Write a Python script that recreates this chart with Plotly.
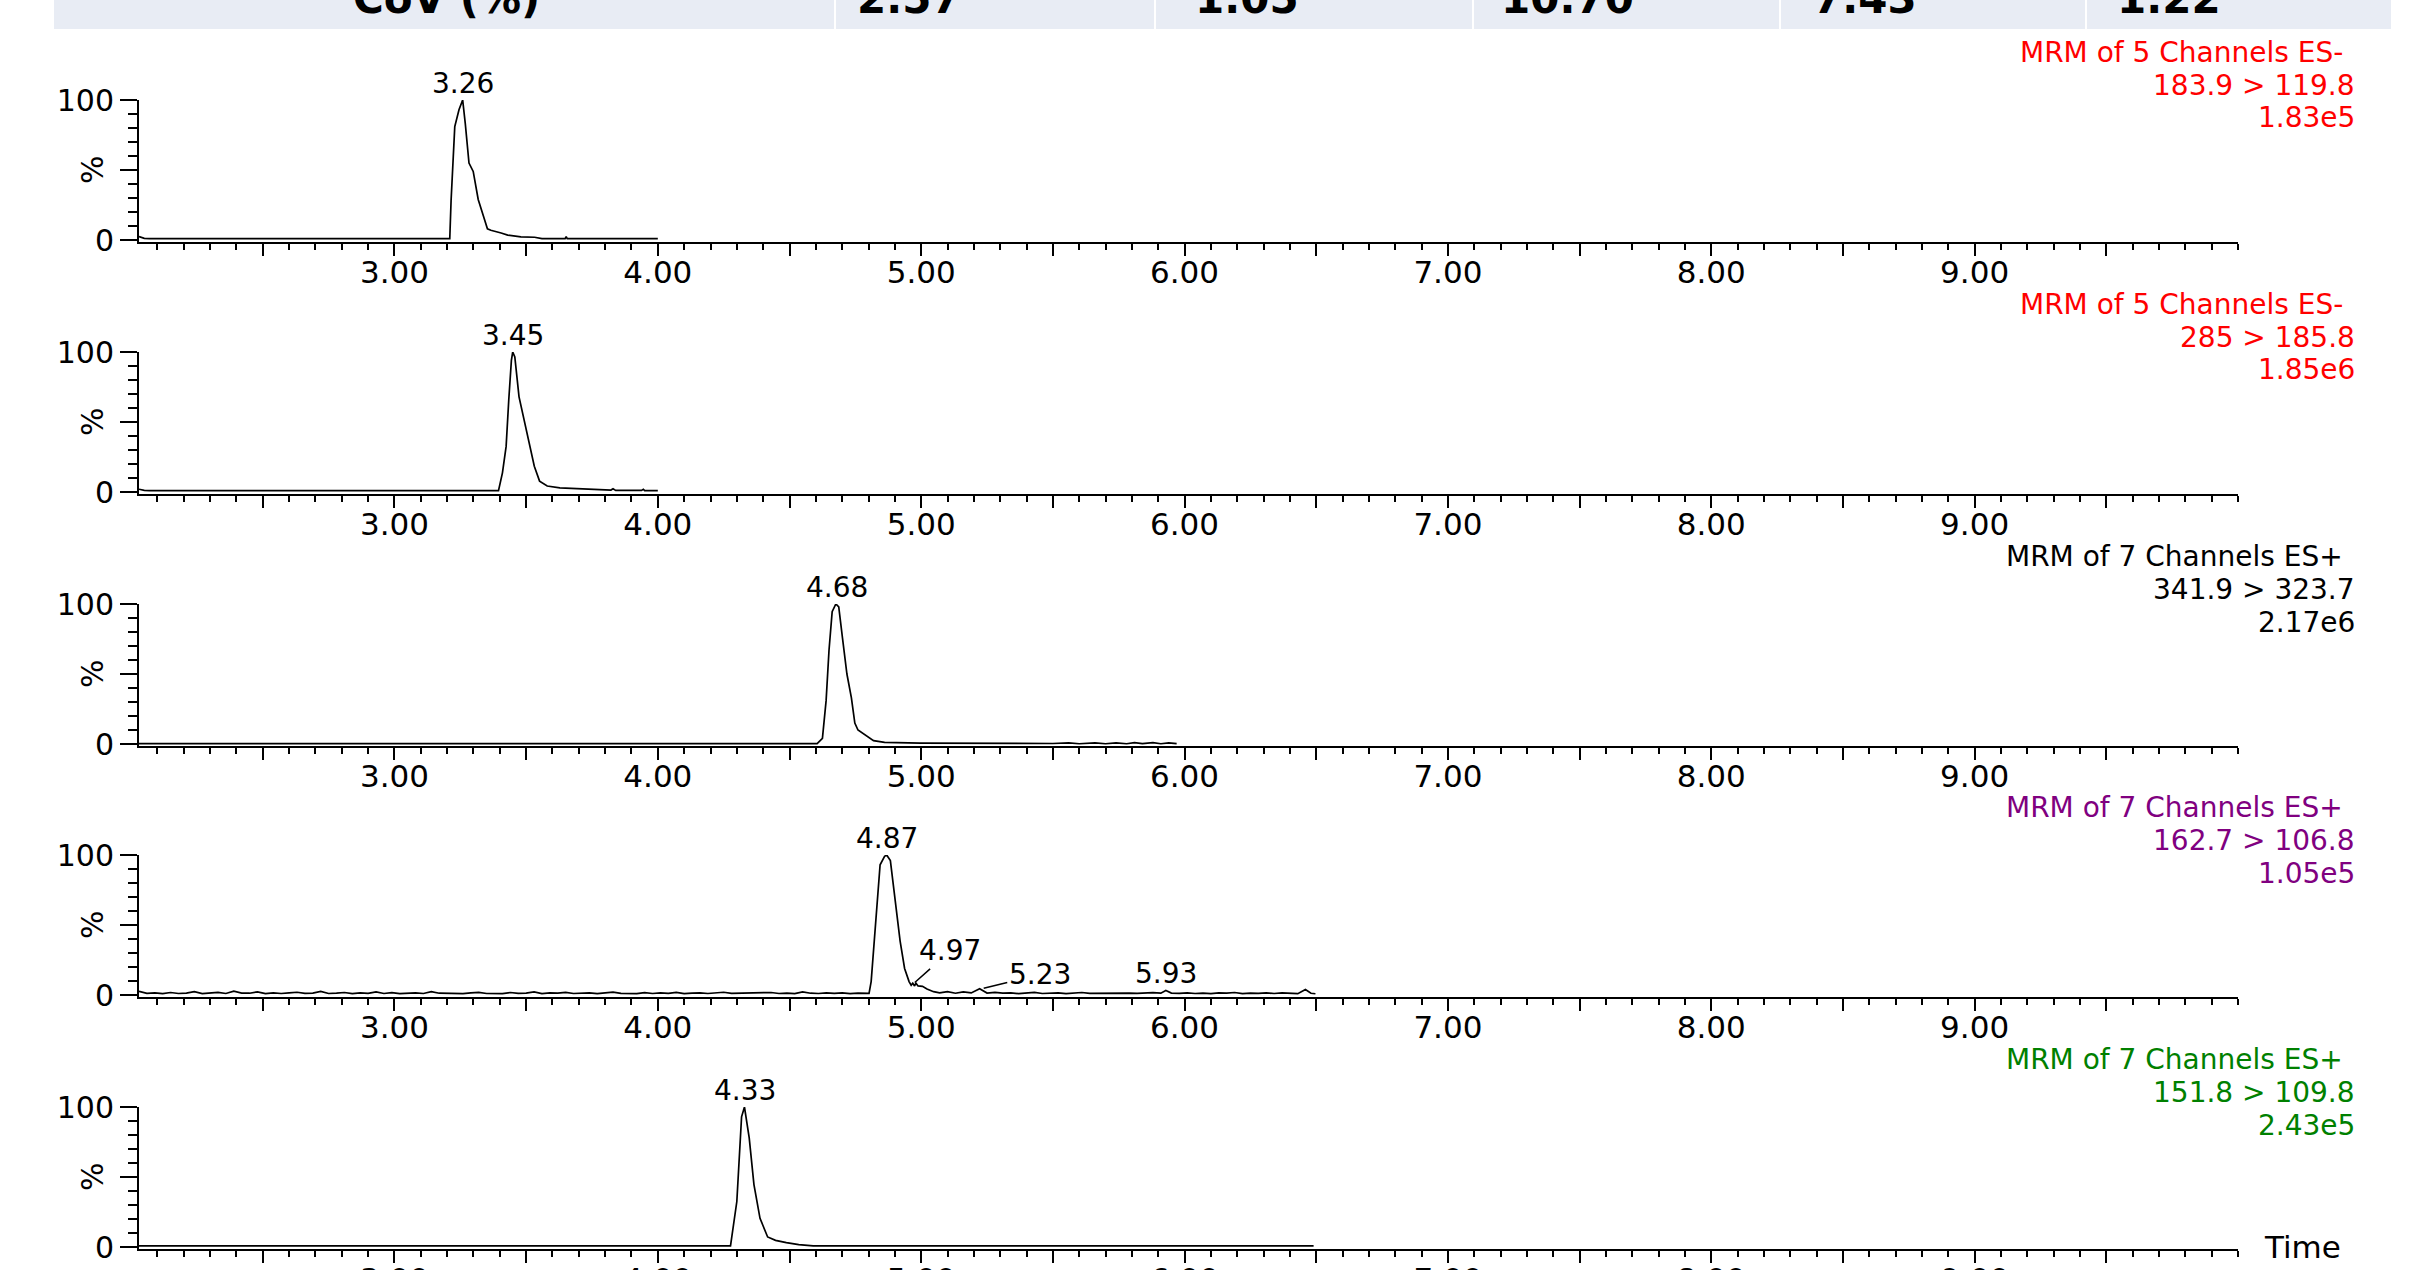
import plotly.graph_objects as go

# ---------------- data ----------------
# Panel 1 : 183.9 > 119.8
p1_t = [2.03, 2.05, 2.07, 3.21, 3.215, 3.229, 3.245, 3.259, 3.269, 3.283, 3.299, 3.318,
        3.338, 3.353, 3.366, 3.39, 3.405, 3.43, 3.454, 3.48, 3.532, 3.56, 3.648, 3.652,
        3.656, 4.0]
p1_y = [2.5, 1.2, 1.0, 1.0, 28, 81, 93, 100, 83, 55, 49, 29,
        17, 8, 7, 6, 5, 3.5, 3, 2.2, 2, 1, 1, 2.5,
        1, 1]

# Panel 2 : 285 > 185.8
p2_t = [2.03, 2.05, 2.07, 3.395, 3.41, 3.424, 3.434, 3.444, 3.449, 3.457, 3.473, 3.492,
        3.512, 3.531, 3.551, 3.58, 3.628, 3.686, 3.76, 3.822, 3.83, 3.84, 3.938, 3.945,
        3.95, 4.0]
p2_y = [2.0, 1.2, 1.0, 1.0, 13.7, 32.6, 65.7, 94, 100, 96.5, 68, 51.5,
        35, 18.4, 7.8, 4.3, 3, 2.4, 1.8, 1.4, 2.3, 1.2, 1.2, 2,
        1, 1]

# Panel 3 : 341.9 > 323.7
p3_t = [2.03, 4.605, 4.625, 4.639, 4.65, 4.662, 4.676, 4.687, 4.701, 4.718, 4.735, 4.748,
        4.76, 4.785, 4.819, 4.861, 4.93, 4.997, 5.5, 5.56, 5.6, 5.66, 5.7, 5.74,
        5.78, 5.81, 5.84, 5.88, 5.91, 5.94, 5.97]
p3_y = [0.3, 0.3, 4, 31, 67, 94.5, 100, 98, 76, 50, 33, 15,
        10, 6.7, 2.4, 1.2, 1.0, 0.6, 0.4, 0.9, 0.2, 0.8, 0.2, 0.9,
        0.2, 1.0, 0.3, 1.0, 0.2, 0.8, 0.3]

# Panel 4 : 162.7 > 106.8 (noisy)
p4_t = [2.03, 2.06, 2.09, 2.12, 2.15, 2.18, 2.21, 2.24, 2.27, 2.30, 2.33, 2.36, 2.39,
        2.42, 2.45, 2.48, 2.51, 2.54, 2.57, 2.60, 2.63, 2.66, 2.69, 2.72, 2.75, 2.78,
        2.81, 2.84, 2.87, 2.90, 2.93, 2.96, 2.99, 3.02, 3.05, 3.08, 3.11, 3.14, 3.17,
        3.20, 3.23, 3.26, 3.29, 3.32, 3.35, 3.38, 3.41, 3.44, 3.47, 3.50, 3.53, 3.56,
        3.59, 3.62, 3.65, 3.68, 3.71, 3.74, 3.77, 3.80, 3.83, 3.86, 3.89, 3.92, 3.95,
        3.98, 4.01, 4.04, 4.07, 4.10, 4.13, 4.16, 4.19, 4.22, 4.25, 4.28, 4.31, 4.34,
        4.37, 4.40, 4.43, 4.46, 4.49, 4.52, 4.55, 4.58, 4.61, 4.64, 4.67, 4.70, 4.73,
        4.76, 4.79, 4.802,
        4.810, 4.827, 4.844, 4.861, 4.869, 4.883, 4.903, 4.920, 4.937, 4.954, 4.962,
        4.968, 4.975, 4.980, 4.988, 5.005, 5.022, 5.047,
        5.07, 5.10, 5.13, 5.16, 5.19, 5.222, 5.25, 5.28, 5.31, 5.34, 5.37, 5.40, 5.43,
        5.46, 5.49, 5.52, 5.55, 5.58, 5.61, 5.64, 5.67, 5.70, 5.73, 5.76, 5.79, 5.82,
        5.85, 5.88, 5.91, 5.929, 5.95, 5.98, 6.01, 6.04, 6.07, 6.10, 6.13, 6.16, 6.19,
        6.22, 6.25, 6.28, 6.31, 6.34, 6.37, 6.40, 6.43, 6.459, 6.48, 6.497]
p4_y = [2.6, 1.2, 1.6, 1.0, 1.8, 1.1, 1.4, 2.4, 1.0, 1.5, 1.9, 1.1, 2.8,
        1.4, 1.3, 2.3, 1.0, 1.6, 1.1, 1.5, 2.0, 1.2, 1.4, 2.6, 1.1, 1.3,
        1.8, 1.0, 1.5, 1.2, 2.2, 1.1, 1.7, 1.0, 1.4, 1.6, 1.1, 2.4, 1.3,
        1.2, 1.5, 1.0, 1.6, 1.9, 1.1, 1.3, 1.0, 1.8, 1.2, 1.4, 2.2, 1.0,
        1.5, 1.3, 1.9, 1.1, 1.2, 1.6, 1.0, 1.4, 2.1, 1.2, 1.3, 1.0, 1.7,
        1.1, 1.5, 1.2, 1.9, 1.0, 1.3, 1.6, 1.1, 1.4, 2.0, 1.2, 1.3, 1.0,
        1.6, 1.2, 1.8, 1.1, 1.4, 1.0, 2.2, 1.3, 1.1, 1.5, 1.2, 1.6, 1.0,
        1.4, 1.2, 1.2,
        9.6, 53, 93, 99, 100, 96, 63, 38.5, 19, 9.6, 7.0,
        8.4, 6.5, 8.5, 6.5, 6.2, 4.3, 2.4,
        1.6, 2.4, 1.3, 2.2, 1.5, 4.5, 1.4, 1.9, 1.3, 1.6, 1.0, 1.5, 1.9,
        1.1, 1.4, 1.6, 1.0, 1.5, 1.8, 1.2, 1.3, 1.5, 1.1, 1.6, 1.4, 1.2,
        1.5, 1.7, 1.3, 3.2, 1.4, 1.2, 1.6, 1.1, 1.4, 1.0, 1.5, 1.3, 1.8,
        1.0, 1.4, 1.2, 1.6, 1.1, 1.5, 1.3, 1.0, 4.0, 1.3, 0.9]

# Panel 5 : 151.8 > 109.8
p5_t = [2.03, 4.276, 4.30, 4.318, 4.329, 4.347, 4.365, 4.388, 4.417, 4.447, 4.488, 4.535,
        4.59, 6.49]
p5_y = [0.8, 0.8, 32.5, 93, 100, 78, 44.6, 20.5, 7.2, 4.8, 3.1, 1.7,
        0.8, 0.8]

traces_t = [p1_t, p2_t, p3_t, p4_t, p5_t]
traces_y = [p1_y, p2_y, p3_y, p4_y, p5_y]

# channel descriptions (right-hand text)
chan_title = ["MRM of 5 Channels ES-", "MRM of 5 Channels ES-", "MRM of 7 Channels ES+",
              "MRM of 7 Channels ES+", "MRM of 7 Channels ES+"]
chan_mrm = ["183.9 > 119.8", "285 > 185.8", "341.9 > 323.7", "162.7 > 106.8", "151.8 > 109.8"]
chan_int = ["1.83e5", "1.85e6", "2.17e6", "1.05e5", "2.43e5"]
chan_color = ["#ff0000", "#ff0000", "#000000", "#800080", "#008000"]

# peak labels (panel index, retention time, label height %)
lab_panel = [0, 1, 2, 3, 3, 3, 3, 4]
lab_text = ["3.26", "3.45", "4.68", "4.87", "4.97", "5.23", "5.93", "4.33"]
lab_y = [100, 100, 100, 100, 8.0, 4.5, 3.2, 100]

# x ticks
x_tickvals = [2.5, 3.0, 3.5, 4.0, 4.5, 5.0, 5.5, 6.0, 6.5, 7.0, 7.5, 8.0, 8.5, 9.0, 9.5]
x_ticktext = ["", "3.00", "", "4.00", "", "5.00", "", "6.00", "", "7.00", "", "8.00", "", "9.00", ""]
x_range = [2.03, 10.0]
y_tickvals = [0, 50, 100]
y_ticktext = ["0", "", "100"]
y_range = [-1.4, 100]

# header table fragment (cropped at top of picture)
header_text = ["CoV (%)", "2.57", "1.05", "10.70", "7.43", "1.22"]

# ---------------- layout helpers ----------------
W, H = 2412, 1270
L, R = 139, 2238
TOP, BOT = 100, 1249
PW, PH = R - L, BOT - TOP


def px(x):
    return (x - L) / PW


def py(y):
    return (BOT - y) / PH


panel_tops = [100, 352, 604, 855, 1107]
panel_h = 142
FONT = "DejaVu Sans"
RFS = 28  # right-hand text size

fig = go.Figure()
layout = dict(
    width=W, height=H,
    margin=dict(l=L, r=W - R, t=TOP, b=H - BOT, pad=0, autoexpand=False),
    paper_bgcolor="white", plot_bgcolor="white",
    showlegend=False,
    font=dict(family=FONT, color="black"),
)

annotations = []
shapes = []

for i in range(5):
    xa = "x" if i == 0 else f"x{i+1}"
    ya = "y" if i == 0 else f"y{i+1}"
    xkey = "xaxis" if i == 0 else f"xaxis{i+1}"
    ykey = "yaxis" if i == 0 else f"yaxis{i+1}"
    top = panel_tops[i]
    dom = [py(top + panel_h), py(top)]
    fig.add_trace(go.Scatter(x=traces_t[i], y=traces_y[i], mode="lines",
                             line=dict(color="black", width=1.7),
                             xaxis=xa, yaxis=ya, hoverinfo="skip"))
    layout[xkey] = dict(
        domain=[0, 1], anchor=ya, range=x_range, showgrid=False, zeroline=False,
        showline=True, linecolor="black", linewidth=2, automargin=False,
        tickmode="array", tickvals=x_tickvals, ticktext=x_ticktext,
        ticks="outside", ticklen=12, tickwidth=2, tickcolor="black",
        ticklabelstandoff=-10,
        tickfont=dict(family=FONT, size=31, color="black"),
        minor=dict(tickmode="linear", tick0=2.0, dtick=0.1, ticks="outside",
                   ticklen=6, tickwidth=2, tickcolor="black", showgrid=False),
        fixedrange=True,
    )
    layout[ykey] = dict(
        domain=dom, anchor=xa, range=y_range, showgrid=False, zeroline=False,
        showline=True, linecolor="black", linewidth=2, automargin=False,
        tickmode="array", tickvals=y_tickvals, ticktext=y_ticktext,
        ticks="outside", ticklen=17, tickwidth=2, tickcolor="black",
        ticklabelstandoff=0,
        tickfont=dict(family=FONT, size=30, color="black"),
        minor=dict(tickmode="linear", tick0=0, dtick=10, ticks="outside",
                   ticklen=9, tickwidth=2, tickcolor="black", showgrid=False),
        fixedrange=True,
    )
    # "%" axis label
    annotations.append(dict(xref="paper", yref=ya, x=px(92), y=50, text="%",
                            showarrow=False, textangle=-90,
                            font=dict(family=FONT, size=30, color="black"),
                            xanchor="center", yanchor="middle"))
    # right-hand channel text
    c = chan_color[i]
    annotations.append(dict(xref="paper", yref="paper", x=px(2345), y=py(top - 48),
                            text=chan_title[i], showarrow=False, xanchor="right",
                            yanchor="middle", font=dict(family=FONT, size=RFS, color=c)))
    annotations.append(dict(xref="paper", yref="paper", x=px(2357), y=py(top - 15),
                            text=chan_mrm[i], showarrow=False, xanchor="right",
                            yanchor="middle", font=dict(family=FONT, size=RFS, color=c)))
    annotations.append(dict(xref="paper", yref="paper", x=px(2357), y=py(top + 18),
                            text=chan_int[i], showarrow=False, xanchor="right",
                            yanchor="middle", font=dict(family=FONT, size=RFS, color=c)))

# peak labels
arrow_offsets = {"4.97": (37, -33), "5.23": (58, -14)}
for p, t, yv in zip(lab_panel, lab_text, lab_y):
    xa = "x" if p == 0 else f"x{p+1}"
    ya = "y" if p == 0 else f"y{p+1}"
    if t in arrow_offsets:
        ax, ay = arrow_offsets[t]
        annotations.append(dict(xref=xa, yref=ya, x=float(t), y=yv, text=t,
                                showarrow=True, arrowhead=0, arrowwidth=1.5,
                                arrowcolor="black", ax=ax, ay=ay, standoff=2,
                                font=dict(family=FONT, size=28, color="black")))
    else:
        annotations.append(dict(xref=xa, yref=ya, x=float(t), y=yv, text=t,
                                showarrow=False, yshift=17, xanchor="center",
                                yanchor="middle",
                                font=dict(family=FONT, size=28, color="black")))

# "Time" axis title
annotations.append(dict(xref="paper", yref="paper", x=px(2302), y=py(1247), text="Time",
                        showarrow=False, xanchor="center", yanchor="middle",
                        font=dict(family=FONT, size=31, color="black")))

# header table fragment
cell_edges = [(54, 834), (836, 1154), (1156, 1472), (1474, 1779), (1781, 2085), (2087, 2391)]
for (x0, x1) in cell_edges:
    shapes.append(dict(type="rect", xref="paper", yref="paper",
                       x0=px(x0), x1=px(x1), y0=py(29), y1=py(-5),
                       fillcolor="#e8ecf4", line=dict(width=0), layer="below"))
text_pos = [(446, "center"), (855, "left"), (1193, "left"), (1499, "left"),
            (1811, "left"), (2115, "left")]
for txt, (xp, anc) in zip(header_text, text_pos):
    annotations.append(dict(xref="paper", yref="paper", x=px(xp), y=py(-2), text=txt,
                            showarrow=False, xanchor=anc, yanchor="middle",
                            font=dict(family=FONT, size=42, color="black", weight="bold")))

layout["annotations"] = annotations
layout["shapes"] = shapes
fig.update_layout(**layout)
fig.write_html("out.html", config={"displayModeBar": False},
               post_script="document.body.style.margin='0';document.body.style.padding='0';")
